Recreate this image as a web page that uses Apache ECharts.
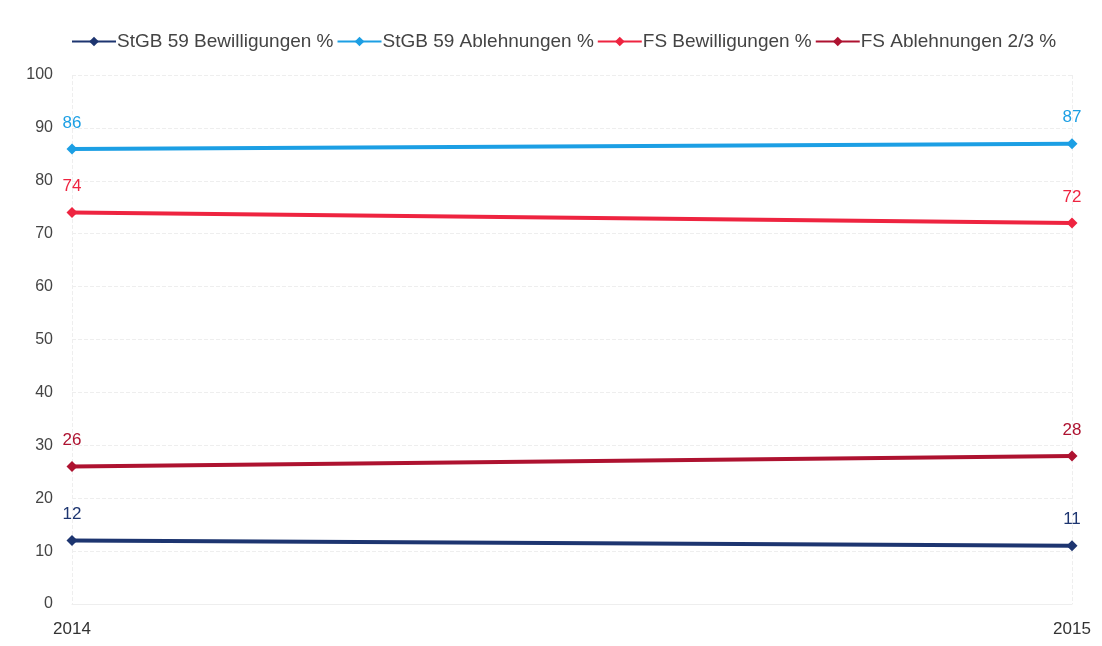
<!DOCTYPE html>
<html>
<head>
<meta charset="utf-8">
<script src="https://cdn.jsdelivr.net/npm/echarts@6/dist/echarts.min.js"></script>
<style>
  html, body { margin: 0; padding: 0; background: #fff; }
  #chart { width: 1102px; height: 646px; }
</style>
</head>
<body>
<div id="chart"></div>
<script>
const years = ["2014", "2015"];
const stgbBewilligungen = [12, 11];
const stgbAblehnungen = [86, 87];
const fsBewilligungen = [74, 72];
const fsAblehnungen = [26, 28];
const seriesNames = [
  "StGB 59 Bewilligungen %",
  "StGB 59 Ablehnungen %",
  "FS Bewilligungen %",
  "FS Ablehnungen 2/3 %"
];
const colors = ["#1d3570", "#1c9fe4", "#ee2440", "#ae1230"];
const font = "'Liberation Sans', Arial, sans-serif";

const chart = echarts.init(document.getElementById("chart"));

function makeSeries(name, data, color) {
  return {
    name: name,
    type: "line",
    data: data,
    symbol: "diamond",
    symbolSize: 11,
    color: color,
    lineStyle: { width: 4, color: color },
    itemStyle: { color: color },
    label: {
      show: true,
      position: "top",
      distance: 12,
      color: color,
      fontSize: 17,
      fontFamily: font
    }
  };
}

chart.setOption({
  animation: false,
  textStyle: { fontFamily: font },
  legend: {
    top: 27,
    left: 66,
    itemGap: 3,
    itemWidth: 44,
    itemHeight: 12,
    textStyle: { color: "#444", fontSize: 19, fontFamily: font, padding: [0, 0, 0, -4] },
    data: seriesNames
  },
  grid: { left: 72, right: 30, top: 75, bottom: 42 },
  xAxis: {
    type: "category",
    data: years,
    boundaryGap: false,
    axisLine: { show: true, lineStyle: { color: "#eee" } },
    axisTick: { show: false },
    axisLabel: { color: "#333", fontSize: 17, margin: 17, fontFamily: font },
    splitLine: { show: true, lineStyle: { color: "#eee", type: "dashed" } }
  },
  yAxis: {
    type: "value",
    min: 0,
    max: 100,
    interval: 10,
    axisLine: { show: false },
    axisTick: { show: false },
    axisLabel: { color: "#444", fontSize: 16, margin: 19, fontFamily: font },
    splitLine: { lineStyle: { color: "#eee", type: "dashed" } }
  },
  series: [
    makeSeries(seriesNames[0], stgbBewilligungen, colors[0]),
    makeSeries(seriesNames[1], stgbAblehnungen, colors[1]),
    makeSeries(seriesNames[2], fsBewilligungen, colors[2]),
    makeSeries(seriesNames[3], fsAblehnungen, colors[3])
  ]
});
</script>
</body>
</html>
